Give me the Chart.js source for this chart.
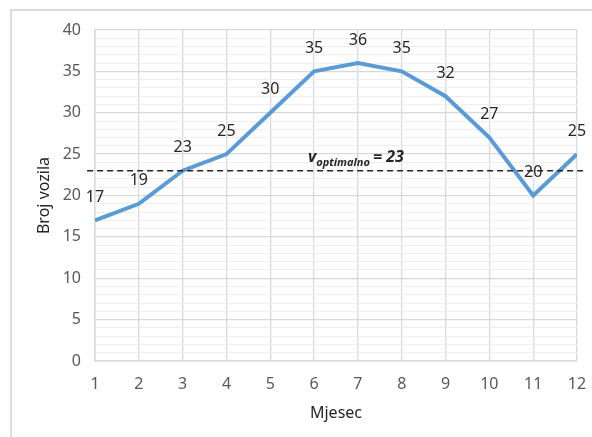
<!DOCTYPE html>
<html>
<head>
<meta charset="utf-8">
<script src="https://cdn.jsdelivr.net/npm/chart.js@4.4.1/dist/chart.umd.min.js"></script>
<style>
    html, body { margin: 0; padding: 0; background: #fff; }
    #wrap { position: relative; width: 592px; height: 437px; overflow: hidden; }
    #frame { position: absolute; left: 10px; top: 9px; width: 640px; height: 480px; border: 2px solid #dcdcdc; }
    canvas { position: absolute; left: 0; top: 0; }
</style>
</head>
<body>
<div id="wrap">
    <div id="frame"></div>
    <canvas id="chart" width="592" height="437"></canvas>
</div>
<script>
// podaci
const months = [1, 2, 3, 4, 5, 6, 7, 8, 9, 10, 11, 12];
const vehicles = [17, 19, 23, 25, 30, 35, 36, 35, 32, 27, 20, 25];
const optimal = 23;
const yTicks = [0, 5, 10, 15, 20, 25, 30, 35, 40];

const FONT = '"Noto Sans", "Open Sans", sans-serif';

// oznake vrijednosti i tekst optimalne linije
const labelPlugin = {
    id: 'labels',
    afterDatasetsDraw(chart) {
        const ctx = chart.ctx;
        const xs = chart.scales.x;
        const ys = chart.scales.y;
        ctx.save();
        ctx.fillStyle = '#262626';
        ctx.font = '16px ' + FONT;
        ctx.textAlign = 'center';
        ctx.textBaseline = 'middle';
        months.forEach((m, i) => {
            ctx.fillText(String(vehicles[i]), xs.getPixelForValue(m), ys.getPixelForValue(vehicles[i]) - 23);
        });

        // v_optimalno = 23
        let x = xs.getPixelForValue(6) - 6;
        const y = ys.getPixelForValue(optimal) - 9;
        ctx.textAlign = 'left';
        ctx.textBaseline = 'alphabetic';
        ctx.font = 'italic bold 16px ' + FONT;
        ctx.fillText('v', x, y);
        x += ctx.measureText('v').width;
        ctx.font = 'italic bold 11px ' + FONT;
        ctx.fillText('optimalno', x, y + 4);
        x += ctx.measureText('optimalno').width + 3;
        ctx.font = 'italic bold 16px ' + FONT;
        ctx.fillText('= ' + optimal, x, y);
        ctx.restore();
    }
};

new Chart(document.getElementById('chart'), {
    type: 'line',
    data: {
        datasets: [{
            data: months.map((m, i) => ({ x: m, y: vehicles[i] })),
            borderColor: '#5b9bd5',
            borderWidth: 4,
            pointRadius: 0,
            tension: 0,
            order: 1
        }, {
            data: [{ x: 0.82, y: optimal }, { x: 12.2, y: optimal }],
            borderColor: '#262626',
            borderWidth: 1.5,
            borderDash: [6, 4],
            pointRadius: 0,
            clip: false,
            order: 0
        }]
    },
    options: {
        responsive: false,
        animation: false,
        layout: { padding: { top: 30, right: 15, left: 35, bottom: 10 } },
        plugins: { legend: { display: false }, tooltip: { enabled: false } },
        scales: {
            x: {
                type: 'linear',
                min: 1,
                max: 12,
                afterFit: s => { s.height = 66; s.paddingLeft = 0; s.paddingRight = 0; },
                ticks: { stepSize: 1, color: '#595959', font: { family: FONT, size: 16 }, padding: 14 },
                grid: { color: '#d9d9d9', lineWidth: 1.3, drawTicks: false },
                border: { color: '#d9d9d9', width: 1.5 },
                title: { display: true, text: 'Mjesec', color: '#262626', font: { family: FONT, size: 16 }, padding: { top: 0, bottom: 4 } }
            },
            y: {
                min: 0,
                max: 40,
                afterFit: s => { s.width = 60; },
                afterBuildTicks: s => {
                    const t = [];
                    for (let v = 0; v <= 40; v++) t.push({ value: v });
                    s.ticks = t;
                },
                ticks: {
                    autoSkip: false,
                    color: '#595959',
                    font: { family: FONT, size: 16 },
                    padding: 14,
                    callback: v => yTicks.includes(v) ? String(v) : ''
                },
                grid: {
                    drawTicks: false,
                    color: c => c.tick && c.tick.value % 5 === 0 ? '#d9d9d9' : '#eeeeee',
                    lineWidth: c => c.tick && c.tick.value % 5 === 0 ? 1.3 : 1
                },
                border: { color: '#d9d9d9', width: 1.5 },
                title: { display: true, text: 'Broj vozila', color: '#262626', font: { family: FONT, size: 16 }, padding: { top: 0, bottom: 4 } }
            }
        }
    },
    plugins: [labelPlugin]
});
</script>
</body>
</html>
